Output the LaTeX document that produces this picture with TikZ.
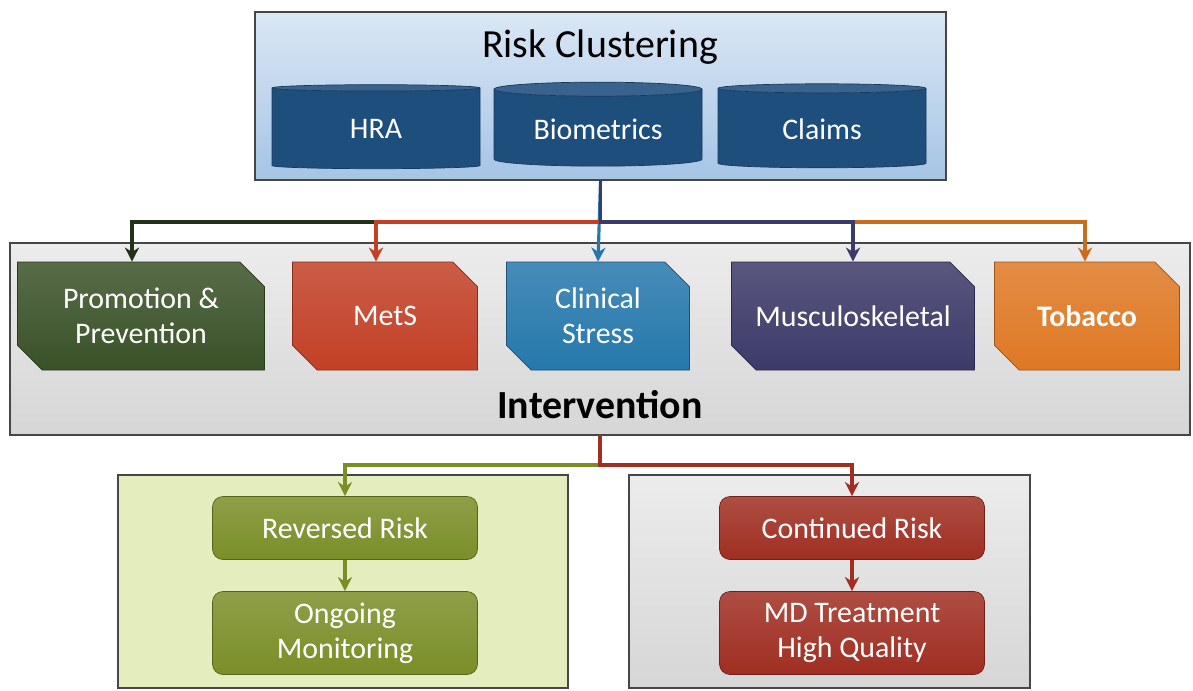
\documentclass[tikz,border=0pt]{standalone}
\usepackage{fontspec}
\setmainfont{Carlito}
\usetikzlibrary{arrows.meta, positioning, shapes.geometric, shapes.misc, calc}
\definecolor{frame}{RGB}{70, 70, 70}
\definecolor{riskbgtop}{RGB}{218, 231, 245}
\definecolor{riskbgbot}{RGB}{166, 196, 229}
\definecolor{diskblue}{RGB}{30, 78, 124}
\definecolor{promgreen}{RGB}{58, 82, 40}
\definecolor{metsred}{RGB}{194, 64, 38}
\definecolor{clinblue}{RGB}{38, 120, 172}
\definecolor{muscpurple}{RGB}{60, 58, 104}
\definecolor{tobaorange}{RGB}{222, 120, 36}
\definecolor{intbgtop}{RGB}{236, 236, 236}
\definecolor{intbgbot}{RGB}{214, 214, 214}
\definecolor{revbg}{RGB}{228, 237, 190}
\definecolor{revolive}{RGB}{122, 142, 40}
\definecolor{conred}{RGB}{160, 46, 34}
\newcommand{\boxfont}{\fontsize{17}{20}\selectfont}
\newcommand{\headfont}{\fontsize{22.7}{26}\selectfont}

\begin{document}
\begin{tikzpicture}[
    x=0.02cm, y=-0.02cm,
    panel/.style = {draw=frame, line width=0.8pt, anchor=north west, inner sep=0pt, outer sep=0pt},
    disk/.style  = {cylinder, shape border rotate=90, aspect=0.1, draw=diskblue!75!black,
                    cylinder uses custom fill, cylinder body fill=diskblue, cylinder end fill=diskblue!88!white,
                    minimum width=208*\px, minimum height=84*\px, text=white, font=\boxfont},
    bevel/.style = {chamfered rectangle, chamfered rectangle corners={north east, south west},
                    chamfered rectangle sep=7pt, draw=#1!70!black, top color=#1!85!white, bottom color=#1,
                    minimum height=108*\px, text=white, font=\boxfont, align=center, inner sep=2pt},
    pill/.style  = {rounded corners=6pt, draw=#1!70!black, top color=#1!85!white, bottom color=#1,
                    minimum width=265*\px, text=white, font=\boxfont, align=center},
    link/.style  = {-{Stealth[length=8pt, width=8pt, inset=2.5pt]}, line width=1.8pt, color=#1},
  ]
    \def\px{0.02cm}
    \useasboundingbox (0,0) rectangle (1193,690);

    % ── Risk clustering ──
    \node[panel, top color=riskbgtop, bottom color=riskbgbot,
          minimum width=691*\px, minimum height=168*\px] (risk) at (255,12) {};
    \node[font=\headfont] (riskt) at (600,47) {Risk Clustering};
    \node[disk] (hra) at (376,129) {HRA};
    \node[disk] (bio) at (598,129) {Biometrics};
    \node[disk] (clm) at (822,129) {Claims};

    % ── Intervention ──
    \node[panel, top color=intbgtop, bottom color=intbgbot,
          minimum width=1180*\px, minimum height=192*\px] (inter) at (10,243) {};
    \node[font=\headfont\bfseries] (intt) at (600,405) {Intervention};
    \node[bevel=promgreen,  minimum width=247*\px] (prom) at (141,316) {Promotion \&\\Prevention};
    \node[bevel=metsred,    minimum width=185*\px] (mets) at (385,316) {MetS};
    \node[bevel=clinblue,   minimum width=183*\px] (clin) at (598,316) {Clinical\\Stress};
    \node[bevel=muscpurple, minimum width=243*\px] (musc) at (853,316) {Musculoskeletal};
    \node[bevel=tobaorange, minimum width=185*\px, font=\boxfont\bfseries] (toba) at (1087,316) {Tobacco};

    % ── Outcome panels ──
    \node[panel, fill=revbg, minimum width=450*\px, minimum height=213*\px] (revp) at (118,475) {};
    \node[panel, top color=intbgtop, bottom color=intbgbot,
          minimum width=401*\px, minimum height=213*\px] (conp) at (629,475) {};
    \node[pill=revolive, minimum height=63*\px] (rev) at (345,528) {Reversed Risk};
    \node[pill=revolive, minimum height=83*\px] (ong) at (345,633) {Ongoing\\Monitoring};
    \node[pill=conred,   minimum height=63*\px] (con) at (852,528) {Continued Risk};
    \node[pill=conred,   minimum height=83*\px] (mdt) at (852,633) {MD Treatment\\High Quality};

    % ── Arrows (risk to intervention) ──
    \draw[link=clinblue]            (risk.south) -- (clin.north);
    \draw[link=tobaorange!90!black] (risk.south) -- ++(0,42) -| ([xshift=-2*\px]toba.north);
    \draw[link=promgreen!60!black]  (risk.south) -- ++(0,42) -| ([xshift=-9*\px]prom.north);
    \draw[link=metsred]             (risk.south) -- ++(0,42) -| ([xshift=-9*\px]mets.north);
    \draw[link=muscpurple]          (risk.south) -- ++(0,42) -| (musc.north);

    % ── Arrows (intervention to outcome) ──
    \draw[link=revolive] (inter.south) -- ++(0,30) -| (rev.north);
    \draw[link=conred]   (inter.south) -- ++(0,30) -| (con.north);
    \draw[link=revolive] (rev) -- (ong);
    \draw[link=conred]   (con) -- (mdt);
\end{tikzpicture}
\end{document}
